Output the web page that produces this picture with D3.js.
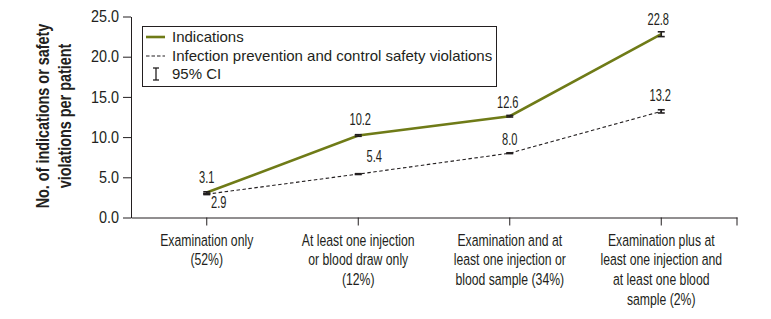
<!DOCTYPE html>
<html><head><meta charset="utf-8">
<script src="https://cdn.jsdelivr.net/npm/d3@7"></script>
<style>
body{margin:0;background:#fff;}
svg text{font-family:"Liberation Sans",Arial,sans-serif;fill:#231f20;}
</style></head>
<body><svg id="c" width="771" height="319"></svg>
<script>
// ---- data ----
const categories = [
  ["Examination only","(52%)"],
  ["At least one injection","or blood draw only","(12%)"],
  ["Examination and at","least one injection or","blood sample (34%)"],
  ["Examination plus at","least one injection and","at least one blood","sample (2%)"]
];
const indications = [3.1, 10.2, 12.6, 22.8];
const indicationsLow = [3.0, 10.1, 12.5, 22.5];
const indicationsHigh = [3.2, 10.3, 12.7, 23.1];
const violations = [2.9, 5.4, 8.0, 13.2];
const violationsLow = [2.85, 5.35, 7.95, 13.0];
const violationsHigh = [2.95, 5.45, 8.05, 13.4];
const yTicks = [0, 5, 10, 15, 20, 25];
const legendLabels = ["Indications","Infection prevention and control safety violations","95% CI"];
const yTitle = ["No. of indications or safety","violations per patient"];

// ---- layout ----
const olive = "#6f7b17";
const ink = "#231f20";
const svg = d3.select("#c");
const x = d3.scaleBand().domain(d3.range(categories.length)).range([131, 737]).padding(0);
const y = d3.scaleLinear().domain([0, 25]).range([217.5, 16.5]);
const cx = i => x(i) + x.bandwidth()/2;

// condensed text helper
function ctext(parent, px, py, sx, size){
  return parent.append("text").attr("transform",`translate(${px},${py}) scale(${sx},1)`)
    .style("font-size", size+"px");
}

// y axis
const ya = svg.append("g").attr("transform","translate(131,0)")
  .call(d3.axisLeft(y).tickValues(yTicks).tickFormat(d3.format(".1f")).tickSize(8).tickSizeOuter(0).tickPadding(4));
ya.selectAll("text").style("font-size","16px").attr("fill",ink)
  .attr("x",0).attr("transform","translate(-12,0) scale(0.9,1)");
ya.selectAll("line,path").attr("stroke",ink);

// x axis
const xa = svg.append("g").attr("transform","translate(0,217.5)")
  .call(d3.axisBottom(x).tickSize(8).tickSizeOuter(0).tickFormat(""));
xa.selectAll("line,path").attr("stroke",ink);
xa.append("line").attr("x1",x.range()[1]).attr("x2",x.range()[1]).attr("y1",0).attr("y2",8).attr("stroke",ink);
categories.forEach((lines,i)=>{
  const t = ctext(svg, cx(i), 245.5, 0.72, 17).attr("text-anchor","middle");
  lines.forEach((l,j)=>t.append("tspan").attr("x",0).attr("y",j*20).text(l));
});

// y title
const yt = svg.append("text").attr("transform","translate(0,116) rotate(-90) scale(0.8,1)")
  .attr("text-anchor","middle").style("font-size","18px").style("font-weight","bold");
yTitle.forEach((l,j)=>yt.append("tspan").attr("x",0).attr("y",49.5+j*22).text(l));

// lines
const line = d3.line().x((d,i)=>cx(i)).y(d=>y(d));
svg.append("path").datum(violations).attr("d",line).attr("fill","none")
  .attr("stroke",ink).attr("stroke-width",1.1).attr("stroke-dasharray","3.5,2.5");
svg.append("path").datum(indications).attr("d",line).attr("fill","none")
  .attr("stroke",olive).attr("stroke-width",2.6);

// error bars
function errBars(lo, hi){
  lo.forEach((l,i)=>{
    const g = svg.append("g").attr("stroke",ink).attr("stroke-width",1.6);
    const c = cx(i);
    g.append("line").attr("x1",c).attr("x2",c).attr("y1",y(l)).attr("y2",y(hi[i]));
    g.append("line").attr("x1",c-3.5).attr("x2",c+3.5).attr("y1",y(l)).attr("y2",y(l));
    g.append("line").attr("x1",c-3.5).attr("x2",c+3.5).attr("y1",y(hi[i])).attr("y2",y(hi[i]));
  });
}
errBars(indicationsLow, indicationsHigh);
errBars(violationsLow, violationsHigh);

// value labels (offsets relative to point)
const indOff = [[0,-15],[2,-16],[-2,-14],[-3,-15]];
const vioOff = [[12,8],[16,-18],[0,-14],[-1,-16]];
function labels(vals, off){
  vals.forEach((v,i)=>{
    ctext(svg, cx(i)+off[i][0], y(v)+off[i][1], 0.68, 16.3).attr("dy","0.36em")
      .attr("text-anchor","middle").text(v.toFixed(1));
  });
}
labels(indications, indOff);
labels(violations, vioOff);

// legend
const lg = svg.append("g");
lg.append("rect").attr("x",142.5).attr("y",26.5).attr("width",354).attr("height",60)
  .attr("fill","#fff").attr("stroke",ink).attr("stroke-width",1);
lg.append("line").attr("x1",146).attr("x2",165).attr("y1",37).attr("y2",37).attr("stroke",olive).attr("stroke-width",2.6);
lg.append("line").attr("x1",146).attr("x2",165).attr("y1",56).attr("y2",56).attr("stroke",ink).attr("stroke-width",1.1).attr("stroke-dasharray","3.5,2");
const lgE = lg.append("g").attr("stroke",ink).attr("stroke-width",1.3);
lgE.append("line").attr("x1",156).attr("x2",156).attr("y1",68).attr("y2",80);
lgE.append("line").attr("x1",153).attr("x2",159).attr("y1",68).attr("y2",68);
lgE.append("line").attr("x1",153).attr("x2",159).attr("y1",80).attr("y2",80);
legendLabels.forEach((l,j)=>{
  lg.append("text").attr("x",172).attr("y",37+j*18.5).attr("dy","0.36em").style("font-size","15px").text(l);
});
</script></body></html>
